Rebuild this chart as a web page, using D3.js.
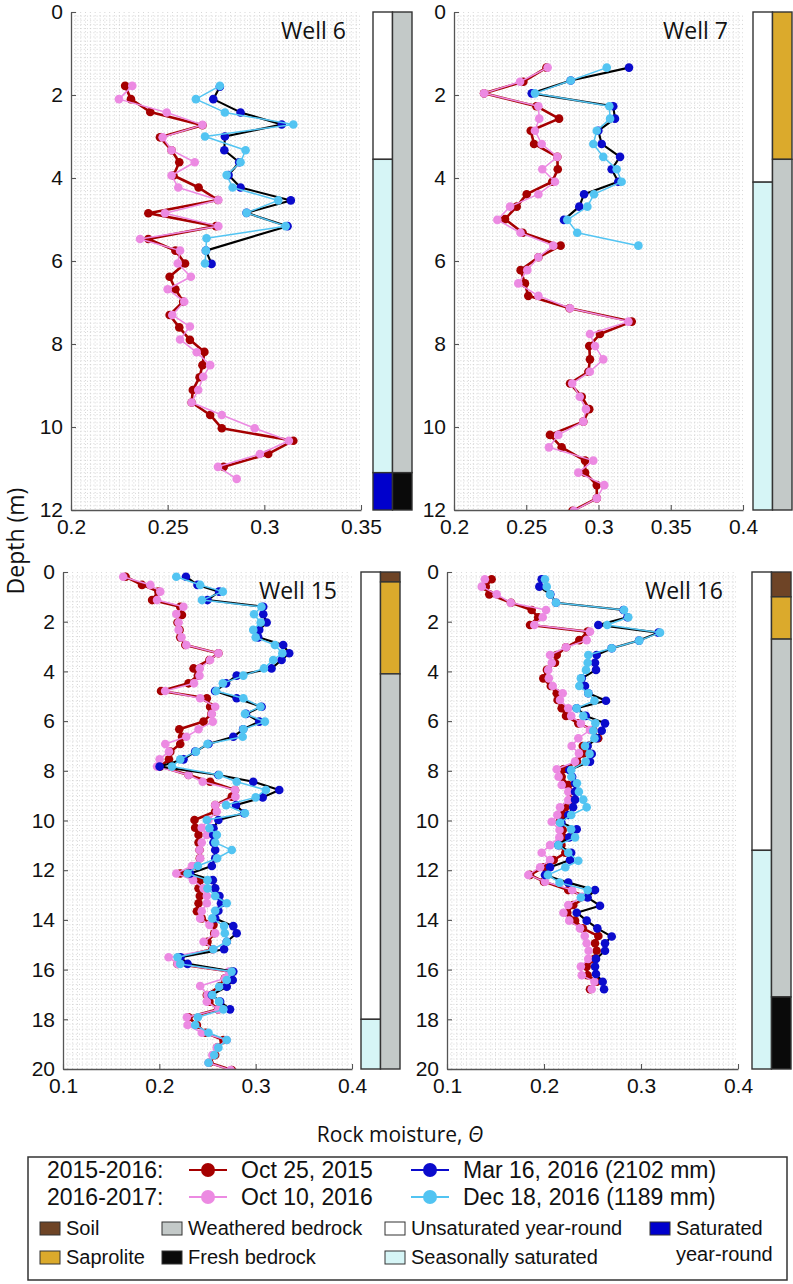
<!DOCTYPE html>
<html>
<head>
<meta charset="utf-8">
<script src="https://cdn.jsdelivr.net/npm/d3@7"></script>
<style>
  body { margin: 0; background: #fff; }
  svg { display: block; }
  text { font-family: "Liberation Sans", Arial, sans-serif; fill: #111; }
  .ttl { font-family: "Open Sans", "Noto Sans", sans-serif; }
</style>
</head>
<body>
<svg id="chart" width="793" height="1284"></svg>
<script>
// ---- data: [depth (m), rock moisture] ----
const w6Oct15 = [[1.78,.228],[2.10,.231],[2.41,.241],[2.73,.268],[3.02,.246],[3.33,.252],[3.62,.256],[3.94,.253],[4.23,.266],[4.53,.276],[4.85,.240],[5.16,.275],[5.47,.240],[5.75,.254],[6.06,.259],[6.38,.251],[6.68,.254],[6.98,.258],[7.30,.251],[7.60,.256],[7.90,.2615],[8.19,.269],[8.51,.268],[8.80,.2665],[9.11,.263],[9.41,.2624],[9.71,.272],[10.03,.278],[10.33,.315],[10.65,.302],[10.96,.279]];
const w6Oct16 = [[1.78,.2317],[2.10,.2248],[2.42,.2495],[2.72,.268],[3.02,.2474],[3.33,.252],[3.62,.264],[3.94,.252],[4.23,.2555],[4.53,.2762],[4.85,.2486],[5.16,.2762],[5.47,.2357],[5.75,.2564],[6.06,.2552],[6.38,.262],[6.68,.250],[6.98,.2586],[7.30,.2524],[7.58,.2615],[7.89,.2564],[8.20,.265],[8.51,.272],[8.79,.2684],[9.11,.2658],[9.41,.2624],[9.71,.278],[10.03,.295],[10.33,.3127],[10.65,.2977],[10.96,.276],[11.25,.2857]];
const w6Mar16 = [[1.80,.277],[2.10,.2736],[2.42,.2877],[2.71,.309],[3.00,.2796],[3.33,.2793],[3.62,.287],[3.93,.2815],[4.23,.2877],[4.54,.3137],[4.84,.2908],[5.16,.312],[5.75,.2698],[6.07,.2727]];
const w6Dec16 = [[1.78,.277],[2.10,.2646],[2.42,.2796],[2.71,.315],[3.00,.2693],[3.33,.2903],[3.62,.2877],[3.93,.2805],[4.23,.2836],[4.54,.3072],[4.84,.2908],[5.16,.311],[5.45,.2701],[5.75,.2698],[6.06,.2693]];

const w7Oct15 = [[1.34,.264],[1.68,.248],[1.96,.2208],[2.27,.257],[2.57,.2727],[2.86,.2531],[3.18,.2554],[3.49,.2715],[3.79,.2718],[4.09,.268],[4.39,.2503],[4.69,.2434],[4.99,.2353],[5.32,.2475],[5.63,.2738],[5.91,.2584],[6.22,.2461],[6.54,.2491],[6.84,.2514],[7.14,.280],[7.46,.323],[7.76,.301],[8.05,.2936],[8.37,.2941],[8.67,.293],[8.95,.2803],[9.27,.2884],[9.57,.2936],[9.87,.2895],[10.19,.2664],[10.49,.2745],[10.81,.2907],[11.10,.2907],[11.40,.2988],[11.72,.2988],[12.02,.282]];
const w7Oct16 = [[1.34,.2648],[1.68,.2457],[1.96,.2208],[2.27,.2584],[2.57,.259],[2.86,.256],[3.18,.2607],[3.49,.2715],[3.79,.2611],[4.09,.2699],[4.39,.2584],[4.69,.2388],[5.01,.230],[5.32,.246],[5.63,.2687],[5.91,.2584],[6.22,.2507],[6.54,.2445],[6.84,.2584],[7.14,.2803],[7.46,.3207],[7.76,.2941],[8.05,.2976],[8.37,.3033],[8.67,.294],[8.95,.2818],[9.27,.287],[9.57,.2913],[9.87,.2895],[10.19,.2722],[10.49,.2657],[10.81,.2964],[11.10,.286],[11.40,.304],[11.72,.2988],[12.02,.283]];
const w7Mar16 = [[1.34,.3211],[1.65,.2808],[1.96,.2538],[2.27,.3102],[2.57,.3114],[2.86,.2999],[3.18,.3022],[3.49,.3149],[3.79,.3091],[4.09,.3137],[4.39,.290],[4.69,.2867],[5.01,.2761]];
const w7Dec16 = [[1.34,.3057],[1.65,.2808],[1.96,.256],[2.27,.3075],[2.57,.308],[2.86,.2988],[3.18,.2964],[3.49,.3033],[3.79,.3126],[4.09,.316],[4.39,.2969],[4.69,.2923],[5.01,.2784],[5.32,.2853],[5.63,.3276]];

const w15Oct15 = [[0.19,.165],[0.52,.182],[0.79,.199],[1.13,.1925],[1.40,.2217],[1.73,.2235],[2.03,.2189],[2.33,.221],[2.63,.2217],[2.94,.227],[3.27,.2613],[3.54,.252],[3.88,.2355],[4.17,.240],[4.48,.2303],[4.79,.2018],[5.08,.2493],[5.42,.2527],[5.71,.254],[6.02,.2459],[6.33,.2207],[6.63,.2235],[6.92,.2217],[7.23,.2114],[7.54,.210],[7.83,.201],[8.17,.2303],[8.44,.2527],[8.77,.2786],[9.04,.2752],[9.38,.258],[9.64,.258],[9.98,.2365],[10.29,.2372],[10.58,.2407],[10.89,.2407],[11.19,.2417],[11.52,.242],[11.83,.239],[12.13,.2217],[12.40,.2424],[12.73,.2407],[13.04,.242],[13.33,.2407],[13.65,.239],[13.94,.244],[14.20,.2562],[14.54,.257],[14.88,.250],[15.18,.255],[15.50,.220],[15.77,.2189],[16.08,.2752],[16.35,.268],[16.66,.2631],[17.02,.2493],[17.29,.252],[17.60,.261],[17.92,.2303],[18.23,.239],[18.54,.248],[18.83,.2665],[19.14,.260],[19.44,.258],[19.75,.252],[20.04,.2752]];
const w15Oct16 = [[0.19,.1625],[0.52,.1907],[0.79,.201],[1.13,.1976],[1.40,.225],[1.69,.2176],[2.03,.220],[2.33,.220],[2.63,.223],[2.94,.228],[3.27,.2613],[3.54,.2527],[3.88,.242],[4.17,.2417],[4.48,.236],[4.79,.206],[5.08,.2424],[5.42,.258],[5.71,.2545],[6.02,.2555],[6.33,.2407],[6.63,.228],[6.92,.2062],[7.23,.210],[7.54,.2003],[7.83,.1976],[8.17,.2303],[8.44,.245],[8.77,.2786],[9.04,.279],[9.38,.258],[9.64,.2597],[9.98,.251],[10.29,.244],[10.58,.2493],[10.89,.244],[11.19,.2417],[11.52,.2424],[11.83,.2338],[12.13,.2176],[12.40,.235],[12.73,.2459],[13.04,.2493],[13.33,.2493],[13.65,.244],[13.94,.2424],[14.20,.252],[14.54,.258],[14.88,.2459],[15.18,.2562],[15.50,.2096],[15.77,.2189],[16.08,.272],[16.35,.2683],[16.66,.2424],[17.02,.250],[17.29,.2493],[17.60,.2614],[17.92,.2286],[18.23,.2293],[18.54,.2441],[18.83,.270],[19.14,.2597],[19.44,.255],[19.75,.251],[20.04,.274]];
const w15Mar16 = [[0.19,.2276],[0.52,.2396],[0.79,.262],[1.13,.250],[1.40,.3079],[1.70,.3079],[2.03,.3114],[2.33,.3037],[2.63,.3027],[2.94,.3286],[3.27,.3348],[3.54,.3269],[3.88,.3165],[4.17,.2803],[4.48,.2693],[4.79,.2579],[5.08,.2803],[5.42,.3062],[5.71,.290],[6.02,.3037],[6.33,.287],[6.63,.2768],[6.92,.251],[7.23,.2372],[7.54,.2251],[7.83,.2003],[8.17,.2613],[8.44,.2975],[8.77,.3245],[9.07,.3073],[9.38,.2796],[9.71,.288],[9.98,.2613],[10.31,.2562],[10.58,.256],[10.89,.2562],[11.19,.258],[11.52,.258],[11.83,.2545],[12.13,.232],[12.40,.2555],[12.73,.258],[13.04,.2624],[13.33,.264],[13.63,.2613],[13.94,.258],[14.25,.2768],[14.54,.2803],[14.88,.270],[15.18,.2672],[15.50,.222],[15.77,.2293],[16.08,.2768],[16.42,.2762],[16.69,.270],[17.02,.2545],[17.29,.2631],[17.60,.2734]];
const w15Dec16 = [[0.19,.2176],[0.52,.2424],[0.79,.2659],[1.13,.2442],[1.40,.306],[1.70,.2983],[2.03,.3052],[2.33,.2975],[2.63,.300],[2.94,.320],[3.27,.3277],[3.54,.3182],[3.88,.3086],[4.17,.2872],[4.48,.2659],[4.79,.259],[5.08,.2872],[5.42,.305],[5.71,.2889],[6.02,.3096],[6.33,.2872],[6.63,.2865],[6.92,.250],[7.23,.238],[7.54,.2217],[7.83,.2131],[8.17,.262],[8.44,.2803],[8.77,.3106],[9.07,.300],[9.38,.2693],[9.71,.2889],[9.98,.2493],[10.31,.252],[10.58,.2597],[10.89,.258],[11.19,.2752],[11.52,.260],[11.83,.240],[12.13,.2293],[12.40,.250],[12.73,.250],[13.04,.258],[13.33,.270],[13.63,.258],[13.94,.255],[14.25,.2672],[14.54,.268],[14.88,.270],[15.18,.256],[15.50,.2189],[15.77,.2217],[16.08,.275],[16.42,.270],[16.69,.262],[17.02,.255],[17.29,.262],[17.60,.2665],[17.92,.240],[18.23,.2372],[18.54,.251],[18.83,.270],[19.14,.2613],[19.44,.257],[19.75,.251]];

const w16Oct15 = [[0.29,.146],[0.59,.140],[0.90,.1436],[1.24,.166],[1.53,.1873],[1.82,.194],[2.13,.1856],[2.40,.245],[2.74,.2364],[3.03,.2227],[3.34,.2131],[3.65,.2113],[3.94,.203],[4.28,.1993],[4.59,.207],[4.88,.2131],[5.15,.214],[5.48,.2182],[5.79,.2227],[6.09,.2354],[6.36,.2508],[6.69,.2559],[7.00,.240],[7.30,.2405],[7.63,.234],[7.94,.220],[8.24,.2182],[8.57,.225],[8.84,.226],[9.18,.2268],[9.47,.222],[9.78,.219],[10.05,.216],[10.38,.2193],[10.68,.220],[10.99,.218],[11.30,.222],[11.59,.210],[11.88,.200],[12.19,.1856],[12.46,.200],[12.80,.225],[13.07,.244],[13.40,.2302],[13.71,.224],[14.03,.232],[14.34,.240],[14.65,.256],[14.94,.2526],[15.24,.2543],[15.57,.252],[15.88,.244],[16.23,.245],[16.49,.2543],[16.79,.2474]];
const w16Oct16 = [[0.29,.139],[0.59,.1358],[0.90,.1512],[1.24,.1657],[1.53,.2021],[1.82,.1987],[2.13,.190],[2.40,.2474],[2.74,.244],[3.03,.2227],[3.34,.2062],[3.65,.208],[3.94,.2044],[4.28,.205],[4.59,.209],[4.88,.2193],[5.15,.2165],[5.48,.225],[5.79,.228],[6.09,.238],[6.36,.2474],[6.69,.2354],[7.00,.2285],[7.30,.236],[7.63,.232],[7.94,.2131],[8.24,.215],[8.57,.2182],[8.84,.225],[9.18,.225],[9.47,.2165],[9.78,.2137],[10.05,.2079],[10.38,.216],[10.68,.2158],[10.99,.2062],[11.30,.1976],[11.59,.2062],[11.88,.196],[12.19,.1838],[12.46,.201],[12.80,.229],[13.07,.239],[13.40,.225],[13.71,.220],[14.03,.226],[14.34,.2371],[14.65,.242],[14.94,.244],[15.24,.246],[15.57,.2456],[15.88,.238],[16.23,.2389],[16.49,.252],[16.79,.2492]];
const w16Mar16 = [[0.29,.1976],[0.59,.1952],[0.90,.2065],[1.24,.2124],[1.53,.282],[1.82,.286],[2.13,.256],[2.44,.318],[2.76,.298],[3.07,.2698],[3.34,.2543],[3.65,.2526],[3.94,.2536],[4.28,.2389],[4.59,.2423],[4.88,.2457],[5.18,.2639],[5.48,.2337],[5.79,.243],[6.09,.2629],[6.39,.2595],[6.69,.2543],[7.00,.245],[7.32,.2492],[7.63,.2474],[7.97,.2261],[8.24,.229],[8.50,.232],[8.84,.232],[9.16,.232],[9.47,.230],[9.78,.225],[10.09,.218],[10.35,.2337],[10.68,.226],[10.99,.2148],[11.30,.228],[11.59,.2268],[11.88,.2062],[12.19,.201],[12.50,.225],[12.80,.2526],[13.10,.245],[13.43,.2577],[13.71,.2337],[14.03,.244],[14.34,.255],[14.67,.2698],[14.94,.2629],[15.24,.2629],[15.57,.2536],[15.88,.2526],[16.18,.2536],[16.49,.2605],[16.79,.2619]];
const w16Dec16 = [[0.29,.201],[0.59,.2028],[0.90,.2062],[1.24,.2124],[1.53,.2825],[1.82,.2869],[2.13,.2652],[2.44,.3196],[2.76,.2982],[3.07,.2698],[3.34,.2457],[3.65,.245],[3.94,.2433],[4.28,.238],[4.59,.2364],[4.88,.2457],[5.18,.252],[5.48,.2337],[5.79,.2405],[6.09,.253],[6.39,.2508],[6.69,.252],[7.00,.2423],[7.32,.247],[7.63,.243],[7.97,.228],[8.24,.2282],[8.50,.234],[8.84,.236],[9.16,.2405],[9.47,.244],[9.78,.228],[10.09,.2165],[10.35,.228],[10.68,.232],[10.99,.2148],[11.30,.225],[11.62,.2354],[11.88,.222],[12.19,.204],[12.50,.216],[12.80,.245],[13.10,.238]];

// saturation column and lithology column: [top, bottom, class]
const w6Sat = [[0,3.55,"unsat"],[3.55,11.1,"seasonal"],[11.1,12,"saturated"]];
const w6Geo = [[0,11.1,"weathered"],[11.1,12,"fresh"]];
const w7Sat = [[0,4.1,"unsat"],[4.1,12,"seasonal"]];
const w7Geo = [[0,3.55,"saprolite"],[3.55,12,"weathered"]];
const w15Sat = [[0,18,"unsat"],[18,20,"seasonal"]];
const w15Geo = [[0,0.4,"soil"],[0.4,4.1,"saprolite"],[4.1,20,"weathered"]];
const w16Sat = [[0,11.2,"unsat"],[11.2,20,"seasonal"]];
const w16Geo = [[0,1.0,"soil"],[1.0,2.7,"saprolite"],[2.7,17.1,"weathered"],[17.1,20,"fresh"]];

const seriesKeys = ["oct15", "oct16", "mar16", "dec16"];
const seriesLabels = {oct15: "Oct 25, 2015", oct16: "Oct 10, 2016", mar16: "Mar 16, 2016 (2102 mm)", dec16: "Dec 18, 2016 (1189 mm)"};
const layerLabels = {soil: "Soil", saprolite: "Saprolite", weathered: "Weathered bedrock", fresh: "Fresh bedrock",
  unsat: "Unsaturated year-round", seasonal: "Seasonally saturated", saturated: "Saturated"};

// ---- styles ----
const sStyle = {
  oct15: {fill: "#a50000", stroke: "#a50000", lw: 2.6},
  oct16: {fill: "#ec8ae2", stroke: "#ec8ae2", lw: 1.5},
  mar16: {fill: "#0b0bcc", stroke: "#000000", lw: 2.1},
  dec16: {fill: "#52c4f2", stroke: "#52c4f2", lw: 1.5}
};
const layerColor = {soil: "#6e4426", saprolite: "#dbaa2c", weathered: "#c3c9c8", fresh: "#0a0a0a",
  unsat: "#ffffff", seasonal: "#d6f5f6", saturated: "#0000cc"};

const panels = [
  {name: "Well 6", x0: 71, x1: 361, y0: 12, y1: 510, dom: [0.2, 0.35], depth: 12, xt: [0.2, 0.25, 0.3, 0.35], gx: 0.0025, gy: 0.1, sx: 373,
   data: {oct15: w6Oct15, oct16: w6Oct16, mar16: w6Mar16, dec16: w6Dec16}, sat: w6Sat, geo: w6Geo},
  {name: "Well 7", x0: 454, x1: 743, y0: 12, y1: 510, dom: [0.2, 0.4], depth: 12, xt: [0.2, 0.25, 0.3, 0.35, 0.4], gx: 0.0033333, gy: 0.1, sx: 753,
   data: {oct15: w7Oct15, oct16: w7Oct16, mar16: w7Mar16, dec16: w7Dec16}, sat: w7Sat, geo: w7Geo},
  {name: "Well 15", x0: 63, x1: 352, y0: 572, y1: 1069, dom: [0.1, 0.4], depth: 20, xt: [0.1, 0.2, 0.3, 0.4], gx: 0.005, gy: 0.2, sx: 361,
   data: {oct15: w15Oct15, oct16: w15Oct16, mar16: w15Mar16, dec16: w15Dec16}, sat: w15Sat, geo: w15Geo},
  {name: "Well 16", x0: 447, x1: 738, y0: 572, y1: 1069, dom: [0.1, 0.4], depth: 20, xt: [0.1, 0.2, 0.3, 0.4], gx: 0.005, gy: 0.2, sx: 752,
   data: {oct15: w16Oct15, oct16: w16Oct16, mar16: w16Mar16, dec16: w16Dec16}, sat: w16Sat, geo: w16Geo}
];

const svg = d3.select("#chart");
const defs = svg.append("defs");
const stripW = 19.5;

panels.forEach((p, i) => {
  const x = d3.scaleLinear().domain(p.dom).range([p.x0, p.x1]);
  const y = d3.scaleLinear().domain([0, p.depth]).range([p.y0, p.y1]);
  const g = svg.append("g");

  // dotted grid
  const grid = g.append("g").attr("stroke", "#c6c6c6").attr("stroke-width", 0.7)
    .attr("stroke-dasharray", "1,2.2");
  d3.range(p.dom[0] + p.gx, p.dom[1] - p.gx / 2, p.gx).forEach(v => {
    grid.append("line").attr("x1", x(v)).attr("x2", x(v)).attr("y1", p.y0).attr("y2", p.y1);
  });
  d3.range(p.gy, p.depth - p.gy / 2, p.gy).forEach(v => {
    grid.append("line").attr("x1", p.x0).attr("x2", p.x1).attr("y1", y(v)).attr("y2", y(v));
  });

  // clip
  defs.append("clipPath").attr("id", "clip" + i).append("rect")
    .attr("x", p.x0 - 6).attr("y", p.y0 - 6).attr("width", p.x1 - p.x0 + 12).attr("height", p.y1 - p.y0 + 6);

  const plot = g.append("g").attr("clip-path", `url(#clip${i})`);
  const line = d3.line().x(d => x(d[1])).y(d => y(d[0]));
  seriesKeys.forEach(k => {
    const st = sStyle[k];
    const s = plot.append("g");
    s.append("path").datum(p.data[k]).attr("d", line)
      .attr("fill", "none").attr("stroke", st.stroke).attr("stroke-width", st.lw).attr("stroke-linejoin", "round");
    s.selectAll("circle").data(p.data[k]).join("circle")
      .attr("cx", d => x(d[1])).attr("cy", d => y(d[0])).attr("r", 4.3).attr("fill", st.fill);
  });

  // axes
  const yAxis = d3.axisLeft(y).tickValues(d3.range(0, p.depth + 1, 2)).tickSizeInner(-5).tickSizeOuter(0).tickPadding(8);
  const xAxis = d3.axisBottom(x).tickValues(p.xt).tickFormat(d => String(d)).tickSizeInner(-5).tickSizeOuter(0).tickPadding(9);
  const ay = g.append("g").attr("transform", `translate(${p.x0},0)`).call(yAxis);
  const ax = g.append("g").attr("transform", `translate(0,${p.y1})`).call(xAxis);
  [ax, ay].forEach(a => {
    a.select(".domain").attr("stroke", "#555").attr("stroke-width", 1.3);
    a.selectAll(".tick line").attr("stroke", "#555").attr("stroke-width", 1.1);
    a.selectAll(".tick text").attr("font-size", 21).attr("fill", "#111")
      .attr("font-family", "'Liberation Sans', Arial, sans-serif");
  });
  ax.selectAll(".tick line").attr("y2", -5);

  // title
  g.append("text").attr("class", "ttl").attr("x", p.x1 - 15).attr("y", p.y0 + 27)
    .attr("text-anchor", "end").attr("font-size", 23).text(p.name);

  // columns
  [p.sat, p.geo].forEach((col, j) => {
    g.append("g").selectAll("rect").data(col).join("rect")
      .attr("x", p.sx + j * stripW).attr("width", stripW)
      .attr("y", d => y(d[0])).attr("height", d => y(d[1]) - y(d[0]))
      .attr("fill", d => layerColor[d[2]]).attr("stroke", "#333").attr("stroke-width", 1.4);
  });
});

// axis titles
svg.append("text").attr("class", "ttl").attr("transform", "translate(24,541) rotate(-90)")
  .attr("text-anchor", "middle").attr("font-size", 23).text("Depth (m)");
const xt = svg.append("text").attr("class", "ttl").attr("x", 400).attr("y", 1142)
  .attr("text-anchor", "middle").attr("font-size", 21);
xt.append("tspan").text("Rock moisture, ");
xt.append("tspan").attr("font-style", "italic").text("\u0398");

// legend
const lg = svg.append("g");
lg.append("rect").attr("x", 28).attr("y", 1157).attr("width", 759).attr("height", 123)
  .attr("fill", "#fff").attr("stroke", "#333").attr("stroke-width", 1.5);

const legendRows = [
  {label: "2015-2016:", y: 1170, items: ["oct15", "mar16"]},
  {label: "2016-2017:", y: 1197, items: ["oct16", "dec16"]}
];
const markerX = [208, 430];
legendRows.forEach(r => {
  lg.append("text").attr("x", 47).attr("y", r.y + 8).attr("font-size", 23).text(r.label);
  r.items.forEach((k, j) => {
    const st = sStyle[k];
    const cx = markerX[j];
    lg.append("line").attr("x1", cx - 19).attr("x2", cx + 19).attr("y1", r.y).attr("y2", r.y)
      .attr("stroke", k === "mar16" ? st.fill : st.stroke).attr("stroke-width", 2);
    lg.append("circle").attr("cx", cx).attr("cy", r.y).attr("r", 7).attr("fill", st.fill);
    lg.append("text").attr("x", cx + 33).attr("y", r.y + 8).attr("font-size", 23).text(seriesLabels[k]);
  });
});

const swatchRows = [
  {y: 1228, items: [["soil", 40], ["weathered", 162], ["unsat", 385], ["saturated", 650]]},
  {y: 1257, items: [["saprolite", 40], ["fresh", 162], ["seasonal", 385]]}
];
swatchRows.forEach(r => {
  r.items.forEach(([k, sx]) => {
    lg.append("rect").attr("x", sx).attr("y", r.y - 6).attr("width", 20).attr("height", 13)
      .attr("fill", layerColor[k]).attr("stroke", "#333").attr("stroke-width", 1);
    lg.append("text").attr("x", sx + 26).attr("y", r.y + 7).attr("font-size", 20).text(layerLabels[k]);
  });
});
lg.append("text").attr("x", 676).attr("y", 1257 + 4).attr("font-size", 20).text("year-round");
</script>
</body>
</html>
